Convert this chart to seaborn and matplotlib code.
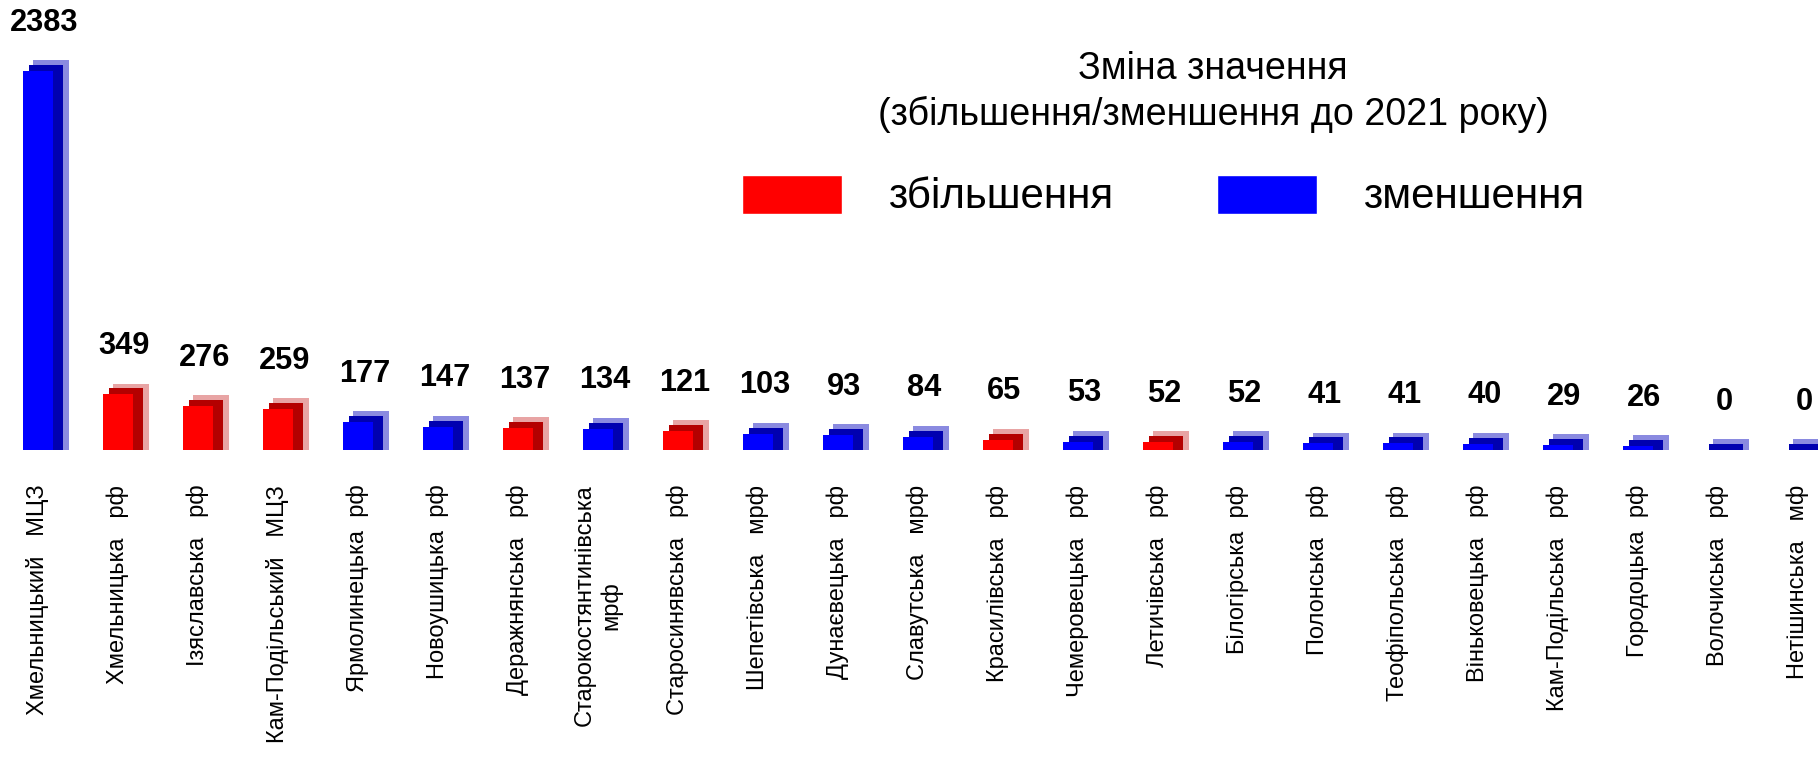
import matplotlib
matplotlib.use('Agg')
import matplotlib.pyplot as plt
from matplotlib import font_manager
from matplotlib.patches import Patch
import seaborn as sns
import pandas as pd
import numpy as np

NAMES = [
    'Хмельницький   МЦЗ', 'Хмельницька   рф', 'Ізяславська   рф', 'Кам-Подільський   МЦЗ',
    'Ярмолинецька  рф', 'Новоушицька  рф', 'Деражнянська   рф', 'Старокостянтинівська\nмрф',
    'Старосинявська   рф', 'Шепетівська   мрф', 'Дунаєвецька   рф', 'Славутська   мрф',
    'Красилівська   рф', 'Чемеровецька   рф', 'Летичівська   рф', 'Білогірська  рф',
    'Полонська   рф', 'Теофіпольська   рф', 'Віньковецька   рф', 'Кам-Подільська   рф',
    'Городоцька  рф', 'Волочиська   рф', 'Нетішинська   мф',
]
VALUES = [2383, 349, 276, 259, 177, 147, 137, 134, 121, 103, 93, 84,
          65, 53, 52, 52, 41, 41, 40, 29, 26, 0, 0]
UP, DOWN = 'збільшення', 'зменшення'
CHANGE = [DOWN, UP, UP, UP, DOWN, DOWN, UP, DOWN, UP, DOWN, DOWN, DOWN,
          UP, DOWN, UP, DOWN, DOWN, DOWN, DOWN, DOWN, DOWN, DOWN, DOWN]
TITLE = 'Зміна значення\n(збільшення/зменшення до 2021 року)'

# pseudo-3D layers, back to front: (x shift, width, extra depth, palette)
LAYERS = [
    (0.16, 0.45, 69, {UP: '#e8a4a4', DOWN: '#8a8ae0'}),
    (0.10, 0.425, 38, {UP: '#b40000', DOWN: '#0000b0'}),
    (0.00, 0.375, 0, {UP: '#ff0000', DOWN: '#0000ff'}),
]

available = {f.name for f in font_manager.fontManager.ttflist}
if 'Liberation Sans Narrow' in available:
    NARROW, k = 'Liberation Sans Narrow', 1.0
else:
    NARROW, k = 'Liberation Sans', 0.82

sns.set_theme(style='white')
plt.rcParams['font.family'] = ['Liberation Sans', 'DejaVu Sans']
plt.rcParams['text.color'] = 'black'
plt.rcParams['xtick.color'] = 'black'

W, H = 1818, 774
fig = plt.figure(figsize=(W / 100, H / 100), dpi=100)
base = 450
ax = fig.add_axes([0, (H - base) / H, 1, base / H])

df = pd.DataFrame({'name': NAMES, 'value': VALUES, 'change': CHANGE,
                   'pos': np.arange(len(NAMES))})

for shift, width, extra, pal in LAYERS:
    d = df.assign(x=df['pos'] + shift, y=df['value'] + extra)
    sns.barplot(data=d, x='x', y='y', hue='change', palette=pal, native_scale=True,
                width=width, dodge=False, legend=False, errorbar=None,
                saturation=1, linewidth=0, ax=ax)

for p, v in zip(df['pos'], df['value']):
    ax.annotate(str(v), xy=(p + 0.08, v + LAYERS[0][2]), xytext=(0, 16),
                textcoords='offset points', ha='center', va='bottom',
                fontsize=27 * k, fontweight='bold', family=NARROW, clip_on=False)

ax.set_xlim(-38 / 80.05, len(NAMES) - 1 + 20 / 80.05)
ax.set_ylim(0, 2383 * base / 379)
ax.set_xticks(df['pos'])
ax.set_xticklabels(NAMES, rotation=90, fontsize=17, ha='center', va='top')
ax.tick_params(axis='x', length=0, pad=25)
ax.set_yticks([])
ax.set_xlabel('')
ax.set_ylabel('')
sns.despine(ax=ax, left=True, bottom=True)

fig.text(1213 / W, 1 - 92 / H, TITLE, ha='center', va='center',
         fontsize=33 * k, family=NARROW, linespacing=1.3)

em = 37 * k * 100 / 72
handles = [Patch(facecolor=LAYERS[2][3][UP]), Patch(facecolor=LAYERS[2][3][DOWN])]
fig.legend(handles, [UP, DOWN], loc='center left', ncol=2, frameon=False,
           bbox_to_anchor=(742 / W, 1 - 196 / H), bbox_transform=fig.transFigure,
           prop={'family': NARROW, 'size': 37 * k},
           handlelength=100 / em, handleheight=44 / em, handletextpad=46 / em,
           columnspacing=104 / em, borderpad=0, borderaxespad=0)

fig.savefig('out.png', dpi=100)
